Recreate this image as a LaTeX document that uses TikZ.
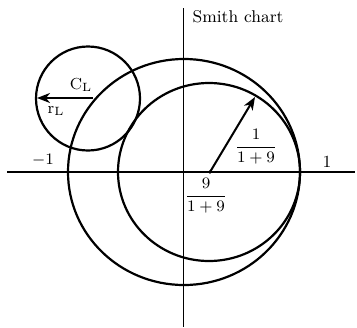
\documentclass[tikz,border=0pt]{standalone}
\usetikzlibrary{arrows.meta}
\begin{document}
\begin{tikzpicture}[x=0.5pt,y=-0.5pt,
  axis/.style={line width=0.9pt},
  circ/.style={line width=1.1pt},
  lbl/.style={inner sep=0pt,font=\fontsize{8.5}{10}\selectfont},
  frac/.style={inner sep=0pt,font=\fontsize{8.5}{10}\selectfont},
  arr/.style={line width=1pt,-{Stealth[length=6.5pt,width=5pt,inset=2pt]}}]
\useasboundingbox (0,0) rectangle (357,327);
% axes
\coordinate (xl) at (7,172);
\coordinate (xr) at (355,172);
\coordinate (yt) at (183.5,8);
\coordinate (yb) at (183.5,327);
\draw[axis] (xl) -- (xr);
\draw[axis] (yt) -- (yb);
% circles
\draw[circ] (184,172) ellipse [x radius=116, y radius=113];
\draw[circ] (209,172) ellipse [x radius=91, y radius=89];
\draw[circ] (88,98.5) circle [radius=52];
% radius arrow of the r=9 circle
\coordinate (c9) at (210,172);
\coordinate (p9) at (255,97);
\fill (c9) circle [radius=1.8];
\draw[arr] (c9) -- (p9);
% load arrow
\coordinate (cl) at (93,98);
\coordinate (pl) at (37,98);
\draw[arr] (cl) -- (pl);
% labels
\node[lbl] (title) at (238,17) {Smith chart};
\node[lbl] (m1) at (43,160) {$-1$};
\node[lbl,anchor=south] (p1) at (327,168) {1};
\node[lbl] (CL) at (81,85) {$\mathrm{C_L}$};
\node[lbl] (rL) at (56,111) {$\mathrm{r_L}$};
\node[frac] (f1) at (256,147) {$\displaystyle\frac{1}{1+9}$};
\node[frac] (f2) at (206,196) {$\displaystyle\frac{9}{1+9}$};
\end{tikzpicture}
\end{document}
